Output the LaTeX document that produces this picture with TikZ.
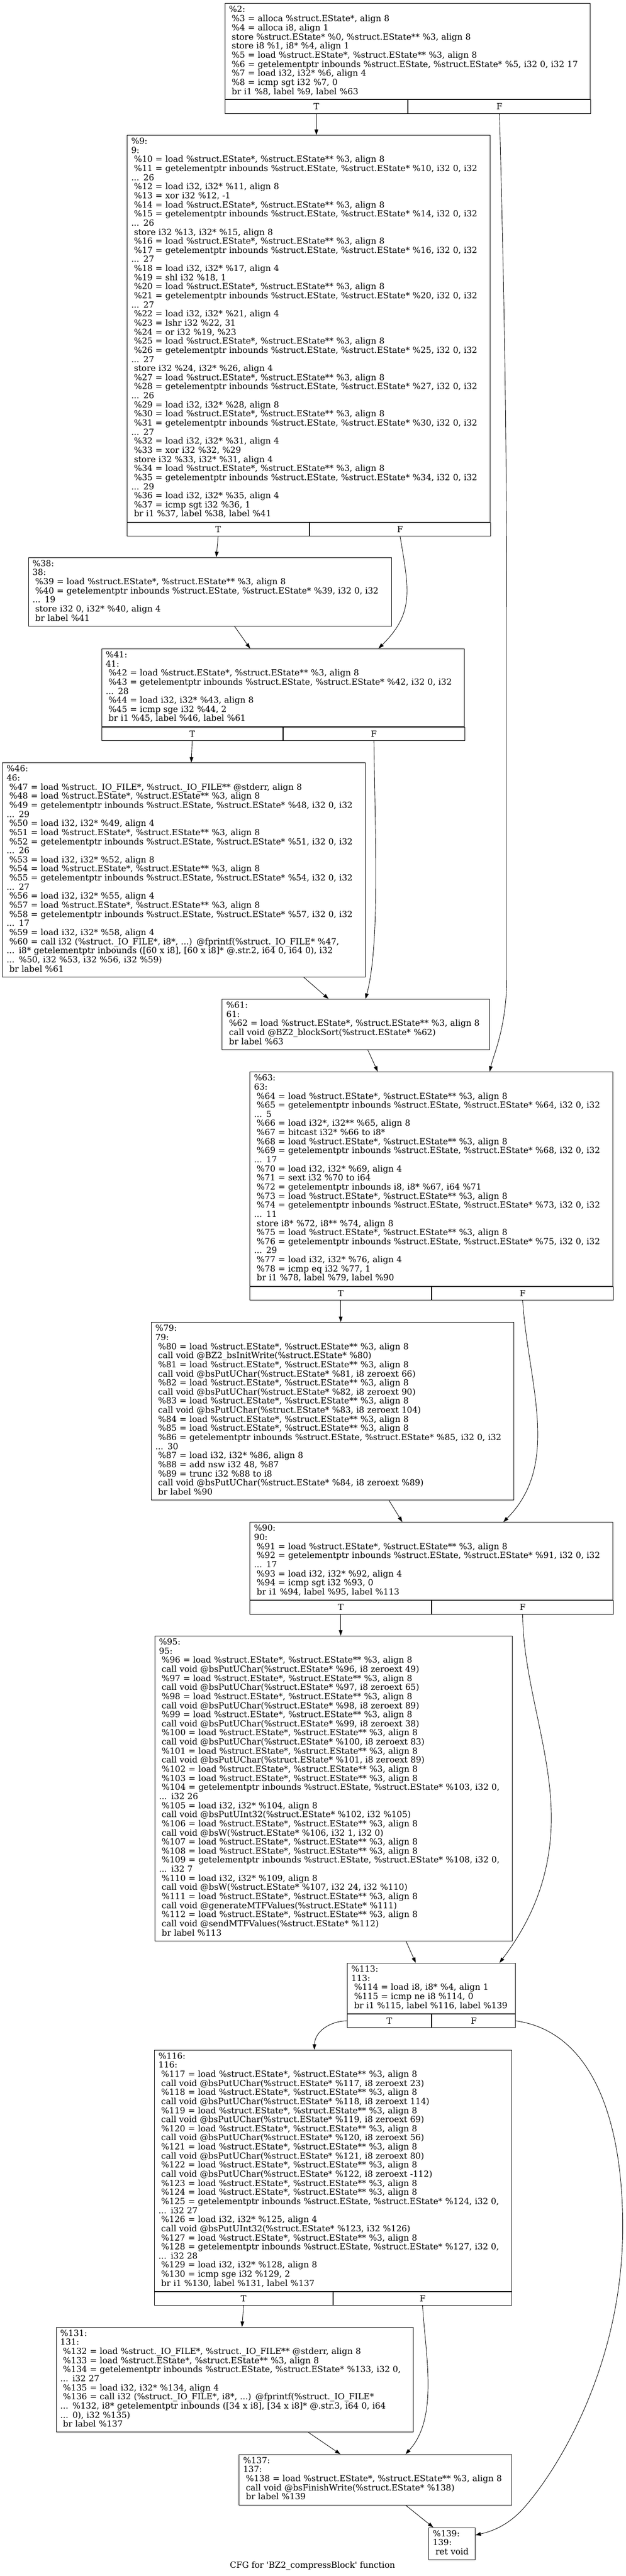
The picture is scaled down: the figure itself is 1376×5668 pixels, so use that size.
\documentclass[tikz,border=0pt]{standalone}
\usepackage{fontspec}
\setmainfont{DejaVu Serif}
\usepackage{tikz}
\usetikzlibrary{arrows.meta, positioning}

\newcommand{\ir}{\hspace*{6pt}}
\tikzset{
  blk/.style={draw, anchor=north west, align=left, inner xsep=9pt, inner ysep=0pt,
    execute at begin node=\strut, execute at end node=\strut},
  cell/.style={draw, anchor=north west, minimum height=30pt, inner sep=0pt},
  flow/.style={-{Triangle[length=12pt,width=8pt]}},
}

\begin{document}
\begin{tikzpicture}[x=1pt, y=-1pt, line width=1pt,
  every node/.style={font=\fontsize{18.5}{20}\selectfont}]
  \useasboundingbox (0,0) rectangle (1376,5668);

  \node[blk, text width=785pt, minimum height=211pt] (B2) at (494,7) {\%2:\\
\ir\%3 = alloca \%struct.EState*, align 8\\
\ir\%4 = alloca i8, align 1\\
\ir store \%struct.EState* \%0, \%struct.EState** \%3, align 8\\
\ir store i8 \%1, i8* \%4, align 1\\
\ir\%5 = load \%struct.EState*, \%struct.EState** \%3, align 8\\
\ir\%6 = getelementptr inbounds \%struct.EState, \%struct.EState* \%5, i32 0, i32 17\\
\ir\%7 = load i32, i32* \%6, align 4\\
\ir\%8 = icmp sgt i32 \%7, 0\\
\ir br i1 \%8, label \%9, label \%63};
  \node[cell, minimum width=402pt] (B2T) at (B2.south west) {T};
  \node[cell, minimum width=401pt] (B2F) at (B2T.north east) {F};

  \node[blk, text width=780pt, minimum height=851pt] (B9) at (279,297) {\%9:\\
9:\\
\ir\%10 = load \%struct.EState*, \%struct.EState** \%3, align 8\\
\ir\%11 = getelementptr inbounds \%struct.EState, \%struct.EState* \%10, i32 0, i32\\
... 26\\
\ir\%12 = load i32, i32* \%11, align 8\\
\ir\%13 = xor i32 \%12, -1\\
\ir\%14 = load \%struct.EState*, \%struct.EState** \%3, align 8\\
\ir\%15 = getelementptr inbounds \%struct.EState, \%struct.EState* \%14, i32 0, i32\\
... 26\\
\ir store i32 \%13, i32* \%15, align 8\\
\ir\%16 = load \%struct.EState*, \%struct.EState** \%3, align 8\\
\ir\%17 = getelementptr inbounds \%struct.EState, \%struct.EState* \%16, i32 0, i32\\
... 27\\
\ir\%18 = load i32, i32* \%17, align 4\\
\ir\%19 = shl i32 \%18, 1\\
\ir\%20 = load \%struct.EState*, \%struct.EState** \%3, align 8\\
\ir\%21 = getelementptr inbounds \%struct.EState, \%struct.EState* \%20, i32 0, i32\\
... 27\\
\ir\%22 = load i32, i32* \%21, align 4\\
\ir\%23 = lshr i32 \%22, 31\\
\ir\%24 = or i32 \%19, \%23\\
\ir\%25 = load \%struct.EState*, \%struct.EState** \%3, align 8\\
\ir\%26 = getelementptr inbounds \%struct.EState, \%struct.EState* \%25, i32 0, i32\\
... 27\\
\ir store i32 \%24, i32* \%26, align 4\\
\ir\%27 = load \%struct.EState*, \%struct.EState** \%3, align 8\\
\ir\%28 = getelementptr inbounds \%struct.EState, \%struct.EState* \%27, i32 0, i32\\
... 26\\
\ir\%29 = load i32, i32* \%28, align 8\\
\ir\%30 = load \%struct.EState*, \%struct.EState** \%3, align 8\\
\ir\%31 = getelementptr inbounds \%struct.EState, \%struct.EState* \%30, i32 0, i32\\
... 27\\
\ir\%32 = load i32, i32* \%31, align 4\\
\ir\%33 = xor i32 \%32, \%29\\
\ir store i32 \%33, i32* \%31, align 4\\
\ir\%34 = load \%struct.EState*, \%struct.EState** \%3, align 8\\
\ir\%35 = getelementptr inbounds \%struct.EState, \%struct.EState* \%34, i32 0, i32\\
... 29\\
\ir\%36 = load i32, i32* \%35, align 4\\
\ir\%37 = icmp sgt i32 \%36, 1\\
\ir br i1 \%37, label \%38, label \%41};
  \node[cell, minimum width=400pt] (B9T) at (B9.south west) {T};
  \node[cell, minimum width=398pt] (B9F) at (B9T.north east) {F};

  \node[blk, text width=780pt, minimum height=151pt] (B38) at (62,1226) {\%38:\\
38:\\
\ir\%39 = load \%struct.EState*, \%struct.EState** \%3, align 8\\
\ir\%40 = getelementptr inbounds \%struct.EState, \%struct.EState* \%39, i32 0, i32\\
... 19\\
\ir store i32 0, i32* \%40, align 4\\
\ir br label \%41};

  \node[blk, text width=779pt, minimum height=171pt] (B41) at (223,1427) {\%41:\\
41:\\
\ir\%42 = load \%struct.EState*, \%struct.EState** \%3, align 8\\
\ir\%43 = getelementptr inbounds \%struct.EState, \%struct.EState* \%42, i32 0, i32\\
... 28\\
\ir\%44 = load i32, i32* \%43, align 8\\
\ir\%45 = icmp sge i32 \%44, 2\\
\ir br i1 \%45, label \%46, label \%61};
  \node[cell, minimum width=398pt] (B41T) at (B41.south west) {T};
  \node[cell, minimum width=399pt] (B41F) at (B41T.north east) {F};

  \node[blk, text width=780pt, minimum height=471pt] (B46) at (5,1678) {\%46:\\
46:\\
\ir\%47 = load \%struct.\_IO\_FILE*, \%struct.\_IO\_FILE** @stderr, align 8\\
\ir\%48 = load \%struct.EState*, \%struct.EState** \%3, align 8\\
\ir\%49 = getelementptr inbounds \%struct.EState, \%struct.EState* \%48, i32 0, i32\\
... 29\\
\ir\%50 = load i32, i32* \%49, align 4\\
\ir\%51 = load \%struct.EState*, \%struct.EState** \%3, align 8\\
\ir\%52 = getelementptr inbounds \%struct.EState, \%struct.EState* \%51, i32 0, i32\\
... 26\\
\ir\%53 = load i32, i32* \%52, align 8\\
\ir\%54 = load \%struct.EState*, \%struct.EState** \%3, align 8\\
\ir\%55 = getelementptr inbounds \%struct.EState, \%struct.EState* \%54, i32 0, i32\\
... 27\\
\ir\%56 = load i32, i32* \%55, align 4\\
\ir\%57 = load \%struct.EState*, \%struct.EState** \%3, align 8\\
\ir\%58 = getelementptr inbounds \%struct.EState, \%struct.EState* \%57, i32 0, i32\\
... 17\\
\ir\%59 = load i32, i32* \%58, align 4\\
\ir\%60 = call i32 (\%struct.\_IO\_FILE*, i8*, ...) @fprintf(\%struct.\_IO\_FILE* \%47,\\
... i8* getelementptr inbounds ([60 x i8], [60 x i8]* @.str.2, i64 0, i64 0), i32\\
... \%50, i32 \%53, i32 \%56, i32 \%59)\\
\ir br label \%61};

  \node[blk, text width=570pt, minimum height=111pt] (B61) at (488,2198) {\%61:\\
61:\\
\ir\%62 = load \%struct.EState*, \%struct.EState** \%3, align 8\\
\ir call void @BZ2\_blockSort(\%struct.EState* \%62)\\
\ir br label \%63};

  \node[blk, text width=780pt, minimum height=471pt] (B63) at (549,2358) {\%63:\\
63:\\
\ir\%64 = load \%struct.EState*, \%struct.EState** \%3, align 8\\
\ir\%65 = getelementptr inbounds \%struct.EState, \%struct.EState* \%64, i32 0, i32\\
... 5\\
\ir\%66 = load i32*, i32** \%65, align 8\\
\ir\%67 = bitcast i32* \%66 to i8*\\
\ir\%68 = load \%struct.EState*, \%struct.EState** \%3, align 8\\
\ir\%69 = getelementptr inbounds \%struct.EState, \%struct.EState* \%68, i32 0, i32\\
... 17\\
\ir\%70 = load i32, i32* \%69, align 4\\
\ir\%71 = sext i32 \%70 to i64\\
\ir\%72 = getelementptr inbounds i8, i8* \%67, i64 \%71\\
\ir\%73 = load \%struct.EState*, \%struct.EState** \%3, align 8\\
\ir\%74 = getelementptr inbounds \%struct.EState, \%struct.EState* \%73, i32 0, i32\\
... 11\\
\ir store i8* \%72, i8** \%74, align 8\\
\ir\%75 = load \%struct.EState*, \%struct.EState** \%3, align 8\\
\ir\%76 = getelementptr inbounds \%struct.EState, \%struct.EState* \%75, i32 0, i32\\
... 29\\
\ir\%77 = load i32, i32* \%76, align 4\\
\ir\%78 = icmp eq i32 \%77, 1\\
\ir br i1 \%78, label \%79, label \%90};
  \node[cell, minimum width=399pt] (B63T) at (B63.south west) {T};
  \node[cell, minimum width=399pt] (B63F) at (B63T.north east) {F};

  \node[blk, text width=779pt, minimum height=391pt] (B79) at (332,2909) {\%79:\\
79:\\
\ir\%80 = load \%struct.EState*, \%struct.EState** \%3, align 8\\
\ir call void @BZ2\_bsInitWrite(\%struct.EState* \%80)\\
\ir\%81 = load \%struct.EState*, \%struct.EState** \%3, align 8\\
\ir call void @bsPutUChar(\%struct.EState* \%81, i8 zeroext 66)\\
\ir\%82 = load \%struct.EState*, \%struct.EState** \%3, align 8\\
\ir call void @bsPutUChar(\%struct.EState* \%82, i8 zeroext 90)\\
\ir\%83 = load \%struct.EState*, \%struct.EState** \%3, align 8\\
\ir call void @bsPutUChar(\%struct.EState* \%83, i8 zeroext 104)\\
\ir\%84 = load \%struct.EState*, \%struct.EState** \%3, align 8\\
\ir\%85 = load \%struct.EState*, \%struct.EState** \%3, align 8\\
\ir\%86 = getelementptr inbounds \%struct.EState, \%struct.EState* \%85, i32 0, i32\\
... 30\\
\ir\%87 = load i32, i32* \%86, align 8\\
\ir\%88 = add nsw i32 48, \%87\\
\ir\%89 = trunc i32 \%88 to i8\\
\ir call void @bsPutUChar(\%struct.EState* \%84, i8 zeroext \%89)\\
\ir br label \%90};

  \node[blk, text width=780pt, minimum height=171pt] (B90) at (549,3349) {\%90:\\
90:\\
\ir\%91 = load \%struct.EState*, \%struct.EState** \%3, align 8\\
\ir\%92 = getelementptr inbounds \%struct.EState, \%struct.EState* \%91, i32 0, i32\\
... 17\\
\ir\%93 = load i32, i32* \%92, align 4\\
\ir\%94 = icmp sgt i32 \%93, 0\\
\ir br i1 \%94, label \%95, label \%113};
  \node[cell, minimum width=399pt] (B90T) at (B90.south west) {T};
  \node[cell, minimum width=399pt] (B90F) at (B90T.north east) {F};

  \node[blk, text width=768pt, minimum height=671pt] (B95) at (340,3599) {\%95:\\
95:\\
\ir\%96 = load \%struct.EState*, \%struct.EState** \%3, align 8\\
\ir call void @bsPutUChar(\%struct.EState* \%96, i8 zeroext 49)\\
\ir\%97 = load \%struct.EState*, \%struct.EState** \%3, align 8\\
\ir call void @bsPutUChar(\%struct.EState* \%97, i8 zeroext 65)\\
\ir\%98 = load \%struct.EState*, \%struct.EState** \%3, align 8\\
\ir call void @bsPutUChar(\%struct.EState* \%98, i8 zeroext 89)\\
\ir\%99 = load \%struct.EState*, \%struct.EState** \%3, align 8\\
\ir call void @bsPutUChar(\%struct.EState* \%99, i8 zeroext 38)\\
\ir\%100 = load \%struct.EState*, \%struct.EState** \%3, align 8\\
\ir call void @bsPutUChar(\%struct.EState* \%100, i8 zeroext 83)\\
\ir\%101 = load \%struct.EState*, \%struct.EState** \%3, align 8\\
\ir call void @bsPutUChar(\%struct.EState* \%101, i8 zeroext 89)\\
\ir\%102 = load \%struct.EState*, \%struct.EState** \%3, align 8\\
\ir\%103 = load \%struct.EState*, \%struct.EState** \%3, align 8\\
\ir\%104 = getelementptr inbounds \%struct.EState, \%struct.EState* \%103, i32 0,\\
... i32 26\\
\ir\%105 = load i32, i32* \%104, align 8\\
\ir call void @bsPutUInt32(\%struct.EState* \%102, i32 \%105)\\
\ir\%106 = load \%struct.EState*, \%struct.EState** \%3, align 8\\
\ir call void @bsW(\%struct.EState* \%106, i32 1, i32 0)\\
\ir\%107 = load \%struct.EState*, \%struct.EState** \%3, align 8\\
\ir\%108 = load \%struct.EState*, \%struct.EState** \%3, align 8\\
\ir\%109 = getelementptr inbounds \%struct.EState, \%struct.EState* \%108, i32 0,\\
... i32 7\\
\ir\%110 = load i32, i32* \%109, align 8\\
\ir call void @bsW(\%struct.EState* \%107, i32 24, i32 \%110)\\
\ir\%111 = load \%struct.EState*, \%struct.EState** \%3, align 8\\
\ir call void @generateMTFValues(\%struct.EState* \%111)\\
\ir\%112 = load \%struct.EState*, \%struct.EState** \%3, align 8\\
\ir call void @sendMTFValues(\%struct.EState* \%112)\\
\ir br label \%113};

  \node[blk, text width=351pt, minimum height=111pt] (B113) at (763,4319) {\%113:\\
113:\\
\ir\%114 = load i8, i8* \%4, align 1\\
\ir\%115 = icmp ne i8 \%114, 0\\
\ir br i1 \%115, label \%116, label \%139};
  \node[cell, minimum width=185pt] (B113T) at (B113.south west) {T};
  \node[cell, minimum width=184pt] (B113F) at (B113T.north east) {F};

  \node[blk, text width=767pt, minimum height=531pt] (B116) at (339,4510) {\%116:\\
116:\\
\ir\%117 = load \%struct.EState*, \%struct.EState** \%3, align 8\\
\ir call void @bsPutUChar(\%struct.EState* \%117, i8 zeroext 23)\\
\ir\%118 = load \%struct.EState*, \%struct.EState** \%3, align 8\\
\ir call void @bsPutUChar(\%struct.EState* \%118, i8 zeroext 114)\\
\ir\%119 = load \%struct.EState*, \%struct.EState** \%3, align 8\\
\ir call void @bsPutUChar(\%struct.EState* \%119, i8 zeroext 69)\\
\ir\%120 = load \%struct.EState*, \%struct.EState** \%3, align 8\\
\ir call void @bsPutUChar(\%struct.EState* \%120, i8 zeroext 56)\\
\ir\%121 = load \%struct.EState*, \%struct.EState** \%3, align 8\\
\ir call void @bsPutUChar(\%struct.EState* \%121, i8 zeroext 80)\\
\ir\%122 = load \%struct.EState*, \%struct.EState** \%3, align 8\\
\ir call void @bsPutUChar(\%struct.EState* \%122, i8 zeroext -112)\\
\ir\%123 = load \%struct.EState*, \%struct.EState** \%3, align 8\\
\ir\%124 = load \%struct.EState*, \%struct.EState** \%3, align 8\\
\ir\%125 = getelementptr inbounds \%struct.EState, \%struct.EState* \%124, i32 0,\\
... i32 27\\
\ir\%126 = load i32, i32* \%125, align 4\\
\ir call void @bsPutUInt32(\%struct.EState* \%123, i32 \%126)\\
\ir\%127 = load \%struct.EState*, \%struct.EState** \%3, align 8\\
\ir\%128 = getelementptr inbounds \%struct.EState, \%struct.EState* \%127, i32 0,\\
... i32 28\\
\ir\%129 = load i32, i32* \%128, align 8\\
\ir\%130 = icmp sge i32 \%129, 2\\
\ir br i1 \%130, label \%131, label \%137};
  \node[cell, minimum width=392pt] (B116T) at (B116.south west) {T};
  \node[cell, minimum width=393pt] (B116F) at (B116T.north east) {F};

  \node[blk, text width=767pt, minimum height=231pt] (B131) at (123,5120) {\%131:\\
131:\\
\ir\%132 = load \%struct.\_IO\_FILE*, \%struct.\_IO\_FILE** @stderr, align 8\\
\ir\%133 = load \%struct.EState*, \%struct.EState** \%3, align 8\\
\ir\%134 = getelementptr inbounds \%struct.EState, \%struct.EState* \%133, i32 0,\\
... i32 27\\
\ir\%135 = load i32, i32* \%134, align 4\\
\ir\%136 = call i32 (\%struct.\_IO\_FILE*, i8*, ...) @fprintf(\%struct.\_IO\_FILE*\\
... \%132, i8* getelementptr inbounds ([34 x i8], [34 x i8]* @.str.3, i64 0, i64\\
... 0), i32 \%135)\\
\ir br label \%137};

  \node[blk, text width=582pt, minimum height=111pt] (B137) at (525,5400) {\%137:\\
137:\\
\ir\%138 = load \%struct.EState*, \%struct.EState** \%3, align 8\\
\ir call void @bsFinishWrite(\%struct.EState* \%138)\\
\ir br label \%139};

  \node[blk, text width=84pt, minimum height=71pt] (B139) at (942,5561) {\%139:\\
139:\\
\ir ret void};

  \node (cap) at (687,5645) {CFG for \textquotesingle BZ2\_compressBlock\textquotesingle{} function};

  \draw[flow] (B2T.south) -- (B2T.south |- B9.north);
  \draw[flow] (B2F.south) .. controls (1110,700) and (1114,1000) .. (1114,1400) -- (1114,2150) .. controls (1114,2260) and (1085,2320) .. ([xshift=128pt]B63.north);
  \draw[flow] (B9T.south) -- ([xshift=14pt]B38.north);
  \draw[flow] (B9F.south) .. controls (900,1300) and (910,1350) .. ([xshift=210pt]B41.north);
  \draw[flow] ([xshift=54pt]B38.south) -- ([xshift=-72pt]B41.north);
  \draw[flow] (B41T.south) -- ([xshift=16pt]B46.north);
  \draw[flow] (B41F.south) .. controls (825,1850) and (835,2080) .. ([xshift=21pt]B61.north);
  \draw[flow] ([xshift=263pt]B46.south) -- ([xshift=-60pt]B61.north);
  \draw[flow] ([xshift=26pt]B61.south) -- ([xshift=-118pt]B63.north);
  \draw[flow] (B63T.south) -- (B63T.south |- B79.north);
  \draw[flow] (B63F.south) .. controls (1160,3040) and (1235,3220) .. ([xshift=158pt]B90.north);
  \draw[flow] ([xshift=124pt]B79.south) -- ([xshift=-64pt]B90.north);
  \draw[flow] (B90T.south) -- (B90T.south |- B95.north);
  \draw[flow] (B90F.south) .. controls (1150,3700) and (1212,3850) .. (1212,4000) .. controls (1212,4150) and (1150,4250) .. ([xshift=150pt]B113.north);
  \draw[flow] ([xshift=159pt]B95.south) -- ([xshift=-34pt]B113.north);
  \draw[flow] (B113T.west) .. controls (725,4447) and (692,4470) .. ([xshift=-41pt]B116.north);
  \draw[flow] (B113F.east) .. controls (1300,4470) and (1369,4660) .. (1369,4900) .. controls (1369,5200) and (1230,5430) .. (1150,5520) .. controls (1115,5558) and (1080,5570) .. ([yshift=19pt]B139.east);
  \draw[flow] (B116T.south) -- ([xshift=16pt]B131.north);
  \draw[flow] (B116F.south) .. controls (935,5180) and (965,5320) .. ([xshift=66pt]B137.north);
  \draw[flow] ([xshift=162pt]B131.south) -- ([xshift=-77pt]B137.north);
  \draw[flow] ([xshift=66pt]B137.south) -- ([xshift=-41pt]B139.north);
\end{tikzpicture}
\end{document}
